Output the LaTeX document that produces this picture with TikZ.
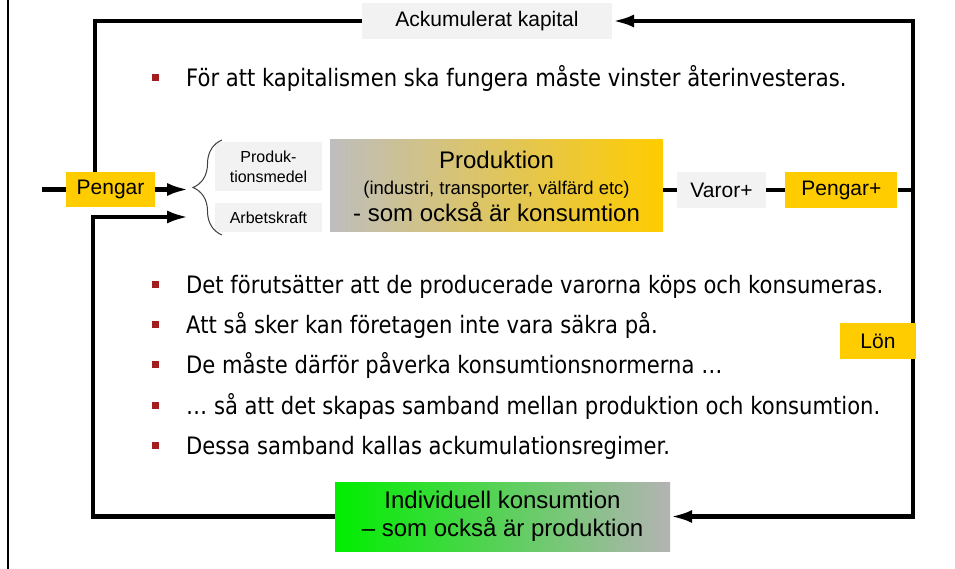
\documentclass[tikz,border=0pt]{standalone}
\usepackage{fontspec}
\setmainfont{Liberation Sans}
\newfontfamily\bulletfont[FakeStretch=0.88]{DejaVu Sans}
\usepackage{tikz}
\usetikzlibrary{arrows.meta,positioning,decorations.pathreplacing}
\definecolor{boxgray}{HTML}{F2F2F2}
\definecolor{moneyyellow}{HTML}{FFCC00}
\definecolor{bulletred}{HTML}{A31F1F}
\definecolor{prodgray}{HTML}{BEBEBE}
\definecolor{consgreen}{HTML}{00EE00}
\definecolor{consgray}{HTML}{B3B3B3}
\newcommand{\bulletmark}{\makebox[34pt][l]{\textcolor{bulletred}{\rule[5.5pt]{7pt}{7pt}}}}
\tikzset{labelbox/.style={
    % The shape:
    rectangle,
    inner sep=0pt,
    % The size:
    minimum height=36pt,
    % The filling:
    fill=boxgray,
    % Font
    font=\fontsize{21}{24}\selectfont
    },
    moneybox/.style={
    labelbox,
    fill=moneyyellow,
    },
    smallbox/.style={
    labelbox,
    minimum width=107pt,
    align=center,
    font=\fontsize{16}{20}\selectfont
    },
    bigbox/.style={
    rectangle,
    inner sep=0pt,
    align=center,
    font=\fontsize{24}{26.5}\selectfont
    },
    loopline/.style={
    line width=4.5pt,
    },
    flowarrow/.style={
    -{Latex[length=22pt,width=13pt]},
    },
    bulletline/.style={
    anchor=base west,
    inner sep=0pt,
    font=\bulletfont\fontsize{24}{28}\selectfont
    },
}

\begin{document}
\begin{tikzpicture}[x=1pt,y=-1pt,node distance=12pt and 19pt]
    \useasboundingbox (0,0) rectangle (955,569);
    \draw[line width=2pt] (8,0) -- (8,569);

    \node (acc)       [labelbox,minimum width=250pt]  at (487,21)    {Ackumulerat kapital};
    \node (pengar)    [moneybox,minimum width=89pt,minimum height=35pt] at (110.5,189.5) {Pengar};
    \node (prodmedel) [smallbox,minimum height=49pt]  at (268.5,166.5) {Produk-\\tionsmedel};
    \node (arbets)    [smallbox,minimum height=29pt,below=of prodmedel] {Arbetskraft};
    \node (prod)      [bigbox,minimum width=333pt,minimum height=92pt,
                       left color=prodgray,right color=moneyyellow] at (496.5,186)
                      {Produktion\\{\fontsize{18.5}{22}\selectfont (industri, transporter, välfärd etc)}\\- som också är konsumtion};
    \node (varor)     [labelbox,minimum width=89pt]   at (721.5,190) {Varor+};
    \node (pengarplus)[moneybox,minimum width=112pt,right=of varor] {Pengar+};
    \node (indiv)     [bigbox,minimum width=335pt,minimum height=69pt,
                       font=\fontsize{24}{28}\selectfont,
                       left color=consgreen,right color=consgray] at (502.5,516.5)
                      {Individuell konsumtion\\– som också är produktion};

    \coordinate (stub) at (42,189.5);
    \coordinate (rc) at (913,190);
    \coordinate (bracein) at (189,189.5);
    \coordinate (arbin) at (189,217);

    \draw[loopline] (acc.west) -| ([xshift=-15.5pt]pengar.north);
    \draw[loopline] (stub) -- (pengar.west);
    \draw[loopline,flowarrow] (pengar.east) -- (bracein);
    \draw[loopline,flowarrow] (indiv.west) -| ([xshift=-96pt]arbin) -- (arbin);
    \draw[loopline] (prod.east |- varor.west) -- (varor.west);
    \draw[loopline] (varor.east) -- (pengarplus.west);
    \draw[loopline] (pengarplus.east) -- (rc);
    \draw[loopline,flowarrow] (rc) |- (acc.east);
    \draw[loopline,flowarrow] (rc) |- (indiv.east);

    \node (lon)       [moneybox,minimum width=76pt]  at (878,341) {Lön};

    \draw[black!75,line width=1pt,decorate,decoration={brace,amplitude=29pt}] (222,235) -- (222,140);

    \node (b1) [bulletline] at (152,87)  {\bulletmark För att kapitalismen ska fungera måste vinster återinvesteras.};
    \node (b2) [bulletline] at (152,293) {\bulletmark Det förutsätter att de producerade varorna köps och konsumeras.};
    \node (b3) [bulletline] at (152,333) {\bulletmark Att så sker kan företagen inte vara säkra på.};
    \node (b4) [bulletline] at (152,373) {\bulletmark De måste därför påverka konsumtionsnormerna …};
    \node (b5) [bulletline] at (152,414) {\bulletmark … så att det skapas samband mellan produktion och konsumtion.};
    \node (b6) [bulletline] at (152,454) {\bulletmark Dessa samband kallas ackumulationsregimer.};
\end{tikzpicture}
\end{document}
